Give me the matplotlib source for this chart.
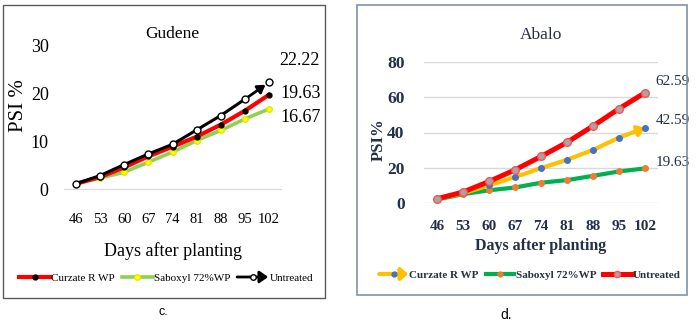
import matplotlib
matplotlib.use("Agg")
import matplotlib.pyplot as plt
from matplotlib.patches import Rectangle, FancyArrowPatch
from matplotlib.lines import Line2D
from matplotlib.legend_handler import HandlerBase

days = ["46", "53", "60", "67", "74", "81", "88", "95", "102"]

# Gudene (panel c)
gud_curzate = [1.1, 2.5, 4.5, 6.8, 8.8, 10.9, 13.4, 16.3, 19.63]
gud_saboxyl = [1.1, 2.3, 3.5, 5.6, 7.7, 10.1, 12.2, 14.6, 16.67]
gud_untreated = [1.1, 2.8, 5.1, 7.3, 9.3, 12.3, 15.3, 18.7, 22.22]

# Abalo (panel d)
aba_curzate = [2.4, 5.5, 10.0, 14.7, 19.8, 24.5, 30.1, 37.1, 42.59]
aba_saboxyl = [2.0, 5.0, 7.2, 8.8, 11.5, 13.0, 15.4, 17.9, 19.63]
aba_untreated = [2.4, 6.2, 12.2, 18.8, 26.4, 34.4, 43.7, 53.5, 62.59]

W, H = 700, 325
SERIF = "Liberation Serif"
NAVY = "#252f48"


class ArrowHandler(HandlerBase):
    """Legend handle: line ending in an arrow head, marker in the middle."""
    def __init__(self, color, lw, mfc, mec, ms, head=(5, 3.5)):
        super().__init__()
        self.color, self.lw, self.mfc, self.mec, self.ms, self.head = color, lw, mfc, mec, ms, head

    def create_artists(self, legend, orig_handle, xdescent, ydescent,
                       width, height, fontsize, trans):
        y = height / 2 - ydescent
        arr = FancyArrowPatch((-xdescent, y), (-xdescent + width, y),
                              arrowstyle=f"-|>,head_length={self.head[0]},head_width={self.head[1]}",
                              color=self.color, lw=self.lw, mutation_scale=1,
                              shrinkA=0, shrinkB=0, transform=trans)
        mk = Line2D([-xdescent + width / 2], [y], ls="", marker="o",
                    mfc=self.mfc, mec=self.mec, ms=self.ms, transform=trans)
        return [arr, mk]


def px_axes(fig, left, top, right, bottom):
    return fig.add_axes([left / W, 1 - bottom / H, (right - left) / W, (bottom - top) / H])


fig = plt.figure(figsize=(7, 3.25), dpi=100)

# panel frames
fig.patches.append(Rectangle((3 / W, 1 - 298 / H), 322 / W, 293 / H, transform=fig.transFigure,
                             fill=False, ec="#5a5a5a", lw=1.0))
fig.patches.append(Rectangle((357 / W, 1 - 295 / H), 330 / W, 290 / H, transform=fig.transFigure,
                             fill=False, ec="#8393a3", lw=1.2))

x = list(range(len(days)))

# ---------------- panel c: Gudene ----------------
ax1 = px_axes(fig, 64, 45, 281, 189)
ax1.plot(x, gud_curzate, color="#ff0000", lw=3.0, marker="o", ms=3.5, mfc="black", mec="black", zorder=3)
ax1.plot(x, gud_saboxyl, color="#92d050", lw=2.6, marker="o", ms=4, mfc="#ffff00", mec="#e6e600", zorder=2)
ax1.plot(x[:-1], gud_untreated[:-1], color="black", lw=2.2, zorder=4)
ax1.annotate("", xy=(x[-1], gud_untreated[-1]), xytext=(x[-2], gud_untreated[-2]),
             arrowprops=dict(arrowstyle="-|>,head_length=0.45,head_width=0.28", color="black",
                             lw=2.0, shrinkA=0, shrinkB=3), zorder=4)
ax1.plot(x, gud_untreated, ls="", marker="o", ms=5, mfc="white", mec="black", mew=1.0, zorder=5)

ax1.set_xlim(-0.5, 8.5)
ax1.set_ylim(0, 30)
ax1.set_yticks([0, 10, 20, 30])
ax1.set_xticks(x)
ax1.set_xticklabels(days)
for s in ["top", "right", "left"]:
    ax1.spines[s].set_visible(False)
ax1.spines["bottom"].set_color("#d9d9d9")
ax1.tick_params(length=0)
ax1.tick_params(axis="y", pad=11, labelsize=13)
ax1.tick_params(axis="x", pad=17, labelsize=10.5)
for lab in ax1.get_xticklabels() + ax1.get_yticklabels():
    lab.set_fontfamily(SERIF)
ax1.set_title("Gudene", fontfamily=SERIF, fontsize=12.5, pad=0, y=1.05)
ax1.set_xlabel("Days after planting", fontfamily=SERIF, fontsize=13, labelpad=12)
ax1.set_ylabel("PSI %", fontfamily=SERIF, fontsize=15)
ax1.yaxis.set_label_coords(-0.165, 0.58)

for vals, off in [(gud_untreated, (22, 16)), (gud_curzate, (23, 1)), (gud_saboxyl, (23, -6))]:
    ax1.annotate(f"{vals[-1]:.2f}", xy=(x[-1], vals[-1]), xytext=off, textcoords="offset points",
                 ha="center", va="center", fontfamily=SERIF, fontsize=13, annotation_clip=False)

h1 = [Line2D([], [], color="#ff0000", lw=3.0, marker="o", ms=3.5, mfc="black", mec="black"),
      Line2D([], [], color="#92d050", lw=2.6, marker="o", ms=4, mfc="#ffff00", mec="#e6e600"),
      Line2D([], [], color="black")]
leg1 = fig.legend(h1, ["Curzate R WP", "Saboxyl 72%WP", "Untreated"],
                  loc="center", bbox_to_anchor=(166 / W, 1 - 278 / H), ncol=3, frameon=False,
                  prop={"family": SERIF, "size": 8}, handlelength=2.8, handletextpad=0.1,
                  columnspacing=0.6, handler_map={h1[2]: ArrowHandler("black", 2.0, "white", "black", 4)})

# ---------------- panel d: Abalo ----------------
ax2 = px_axes(fig, 424, 62, 658, 203)
ax2.plot(x, aba_saboxyl, color="#00b050", lw=3.0, marker="o", ms=4, mfc="#ed7d31", mec="#ed7d31", zorder=2)
ax2.plot(x[:-1], aba_curzate[:-1], color="#ffc000", lw=3.0, zorder=3)
ax2.annotate("", xy=(x[-1], aba_curzate[-1]), xytext=(x[-2], aba_curzate[-2]),
             arrowprops=dict(arrowstyle="-|>,head_length=0.4,head_width=0.3", color="#ffc000",
                             lw=3.0, shrinkA=0, shrinkB=0), zorder=3)
ax2.plot(x, aba_curzate, ls="", marker="o", ms=4, mfc="#4472c4", mec="#4472c4", zorder=3)
ax2.plot(x, aba_untreated, color="#ff0000", lw=3.6, marker="o", ms=5.5, mfc="#a5a5a5", mec="#ff5050",
         mew=1.0, zorder=4)

ax2.set_xlim(-0.5, 8.5)
ax2.set_ylim(0, 80)
ax2.set_yticks([0, 20, 40, 60, 80])
ax2.set_xticks(x)
ax2.set_xticklabels(days)
for s in ax2.spines.values():
    s.set_visible(False)
ax2.grid(axis="y", color="#d9d9d9", lw=1.0)
ax2.set_axisbelow(True)
ax2.tick_params(length=0, colors=NAVY)
ax2.tick_params(axis="y", pad=14, labelsize=12.5)
ax2.tick_params(axis="x", pad=12, labelsize=11)
for lab in ax2.get_xticklabels() + ax2.get_yticklabels():
    lab.set_fontfamily(SERIF)
    lab.set_fontweight("bold")
ax2.set_title("Abalo", fontfamily=SERIF, fontsize=12.5, color=NAVY, pad=0, y=1.16)
ax2.set_xlabel("Days after planting", fontfamily=SERIF, fontsize=11.5, fontweight="bold",
               color=NAVY, labelpad=4)
ax2.set_ylabel("PSI%", fontfamily=SERIF, fontsize=12, fontweight="bold", color=NAVY)
ax2.yaxis.set_label_coords(-0.16, 0.45)

for vals, off in [(aba_untreated, (20, 8)), (aba_curzate, (20, 5)), (aba_saboxyl, (20, 4))]:
    ax2.annotate(f"{vals[-1]:.2f}", xy=(x[-1], vals[-1]), xytext=off, textcoords="offset points",
                 ha="center", va="center", fontfamily=SERIF, fontsize=11, color=NAVY,
                 annotation_clip=False)

h2 = [Line2D([], [], color="#ffc000"),
      Line2D([], [], color="#00b050", lw=3.0, marker="o", ms=3.5, mfc="#ed7d31", mec="#ed7d31"),
      Line2D([], [], color="#ff0000", lw=3.6, marker="o", ms=4.5, mfc="#a5a5a5", mec="#ff5050")]
leg2 = fig.legend(h2, ["Curzate R WP", "Saboxyl 72%WP", "Untreated"],
                  loc="center", bbox_to_anchor=(530 / W, 1 - 275 / H), ncol=3, frameon=False,
                  prop={"family": SERIF, "size": 8, "weight": "bold"}, handlelength=2.6,
                  handletextpad=0.1, columnspacing=0.6,
                  handler_map={h2[0]: ArrowHandler("#ffc000", 3.0, "#4472c4", "#4472c4", 3.5, head=(4, 3.5))})
for t in leg2.get_texts():
    t.set_color(NAVY)

# captions
fig.text(163 / W, 1 - 312 / H, "c.", ha="center", va="center", fontfamily="Liberation Sans", fontsize=9)
fig.text(506 / W, 1 - 315 / H, "d.", ha="center", va="center", fontfamily="Liberation Sans", fontsize=10)

fig.savefig("out.png", dpi=100)
